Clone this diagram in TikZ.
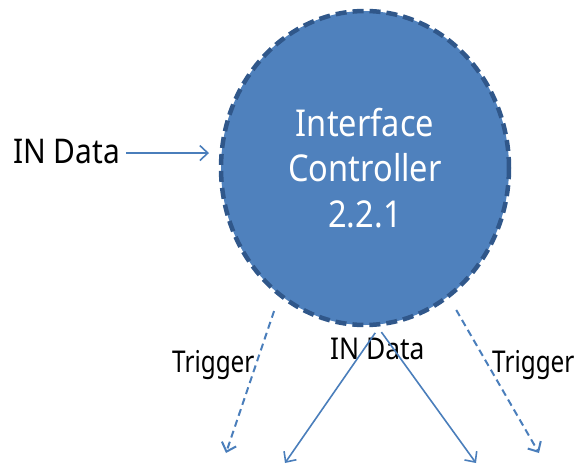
\documentclass[tikz,border=0pt]{standalone}
\usepackage{fontspec}
\usetikzlibrary{shapes.geometric,arrows.meta}
\newfontfamily\mgfont[FakeStretch=0.88]{Noto Sans}
\newfontfamily\mgnarrow[FakeStretch=0.81]{Noto Sans}
\definecolor{fillblue}{HTML}{4F81BD}
\definecolor{edgeblue}{HTML}{30578A}
\definecolor{arrowblue}{HTML}{4A7EBB}
\begin{document}
\begin{tikzpicture}[x=1pt,y=-1pt,
  ctrlnode/.style={ellipse, fill=fillblue, draw=edgeblue, line width=4.5pt,
    dash pattern=on 11pt off 6pt, minimum width=288pt, minimum height=314pt,
    inner sep=0pt, outer sep=0pt, text=white, align=center,
    font=\mgfont\fontsize{37}{45.5}\selectfont},
  lbl/.style={inner sep=0pt, anchor=base west, text=black},
  biglbl/.style={lbl, font=\mgfont\fontsize{34}{40}\selectfont},
  smalllbl/.style={lbl, font=\mgfont\fontsize{30}{36}\selectfont},
  triglbl/.style={lbl, font=\mgnarrow\fontsize{30}{36}\selectfont},
  flow/.style={draw=arrowblue, line width=1.6pt, -{Straight Barb[length=8pt,width=15pt]}},
  trig/.style={flow, line width=2pt, dash pattern=on 7pt off 4.5pt},
]
\useasboundingbox (0,0) rectangle (574,467);
\node[ctrlnode] (ctrl) at (365,168) {Interface\\Controller\\2.2.1};
\node[biglbl] (lin) at (13,163) {IN Data};
\node[triglbl] (ltrig) at (172,372) {Trigger};
\node[triglbl] (rtrig) at (492,372) {Trigger};
\node[smalllbl] (bin) at (330,359) {IN Data};
\coordinate (t1e) at (226,453);
\coordinate (d1e) at (285,463);
\coordinate (d2e) at (476,463);
\coordinate (t2e) at (539,453);
\draw[flow, shorten <=6pt, shorten >=12pt] ([yshift=-2pt]lin.east) -- ([yshift=-2pt]lin.east -| ctrl.west);
\draw[trig, shorten <=17.5pt] (ctrl.-124.6) -- (t1e);
\draw[flow, shorten <=10.8pt] (ctrl.-84.1) -- (d1e);
\draw[flow, shorten <=9.3pt] (ctrl.-86.2) -- (d2e);
\draw[trig, shorten <=16pt] (ctrl.-57.1) -- (t2e);
\end{tikzpicture}
\end{document}
